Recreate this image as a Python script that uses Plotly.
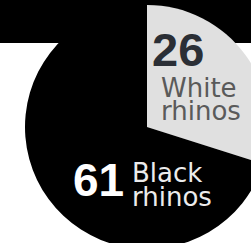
import plotly.graph_objects as go

labels = ["White rhinos", "Black rhinos"]
values = [26, 61]
label_lines = [["White", "rhinos"], ["Black", "rhinos"]]
slice_colors = ["#e0e0e0", "#000000"]
num_colors = ["#2b2f36", "#ffffff"]
word_colors = ["#5a5a5a", "#ececec"]

W, H = 272, 254

def px(x):
    return x / W

def py(y):
    return 1 - y / H

cx, cy, r = 147, 127, 122

fig = go.Figure()
fig.add_trace(go.Pie(
    labels=labels, values=values, sort=False, direction="clockwise", rotation=0,
    marker=dict(colors=slice_colors, line=dict(width=0)),
    textinfo="none", hoverinfo="label+value", showlegend=False,
    domain=dict(x=[px(cx - r), px(cx + r)], y=[py(cy + r), py(cy - r)]),
))

fig.add_shape(type="rect", xref="paper", yref="paper", x0=0, x1=1, y0=py(43), y1=1,
              fillcolor="#000000", line=dict(width=0), layer="below")

# number + label positions (pixel anchors of text blocks)
num_pos = [(150, 50), (71, 180)]
num_size = [47, 46]
word_x = [159, 130]
word_y = [[88, 111], [173, 197]]
for i in range(2):
    fig.add_annotation(x=px(num_pos[i][0]), y=py(num_pos[i][1]), xref="paper", yref="paper",
                       text=f"<b>{values[i]}</b>", showarrow=False, xanchor="left", yanchor="middle",
                       font=dict(family="Liberation Sans", size=num_size[i], color=num_colors[i]))
    for j, line in enumerate(label_lines[i]):
        fig.add_annotation(x=px(word_x[i]), y=py(word_y[i][j]), xref="paper", yref="paper",
                           text=line, showarrow=False, xanchor="left", yanchor="middle",
                           align="left",
                           font=dict(family="DejaVu Sans", size=26, color=word_colors[i]))

fig.update_layout(width=W, height=H, margin=dict(l=0, r=0, t=0, b=0),
                  paper_bgcolor="#ffffff")
fig.write_html("out.html", config={"displayModeBar": False},
               post_script="document.body.style.margin='0';document.body.style.overflow='hidden';")
